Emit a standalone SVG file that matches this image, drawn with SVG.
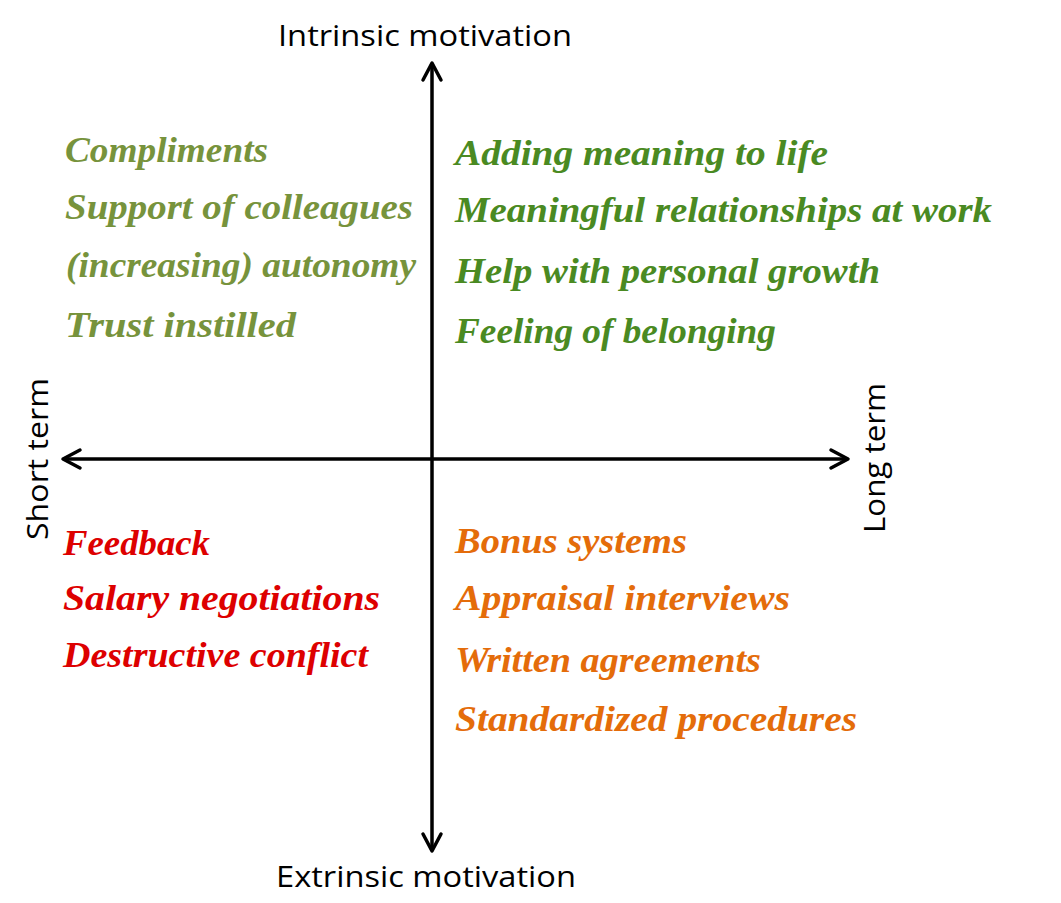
<svg xmlns="http://www.w3.org/2000/svg" width="1061" height="903" viewBox="0 0 1061 903">
<style>
.axis{font-family:"Open Sans","Liberation Sans",sans-serif;font-size:30px;fill:#000}
.s{font-family:"Liberation Serif","DejaVu Serif",serif;font-style:italic;font-weight:bold;font-size:36px}
.olive{fill:#77933C}
.green{fill:#4A8A22}
.red{fill:#DD0000}
.orange{fill:#E46C0A}
.ax{stroke:#000;stroke-width:3.5;fill:none}
</style>
<defs>
<marker id="arr" viewBox="0 0 24 24" refX="20" refY="12" markerWidth="24" markerHeight="24" markerUnits="userSpaceOnUse" orient="auto-start-reverse" overflow="visible">
<path d="M3,3 L20,12 L3,21" fill="none" stroke="#000" stroke-width="3.5" stroke-linejoin="round" stroke-linecap="round"/>
</marker>
</defs>
<rect width="1061" height="903" fill="#fff"/>
<g id="connectors">
<path class="ax" d="M432,851 L432,63" marker-start="url(#arr)" marker-end="url(#arr)"/>
<path class="ax" d="M63,459 L848,459" marker-start="url(#arr)" marker-end="url(#arr)"/>
</g>
<g id="label-intrinsic"><text class="axis" x="425" y="46" text-anchor="middle" textLength="294" lengthAdjust="spacingAndGlyphs">Intrinsic motivation</text></g>
<g id="label-extrinsic"><text class="axis" x="426" y="887" text-anchor="middle" textLength="300" lengthAdjust="spacingAndGlyphs">Extrinsic motivation</text></g>
<g id="label-short"><text class="axis" transform="translate(48,459) rotate(-90)" text-anchor="middle" textLength="162" lengthAdjust="spacingAndGlyphs">Short term</text></g>
<g id="label-long"><text class="axis" transform="translate(885,458) rotate(-90)" text-anchor="middle" textLength="150" lengthAdjust="spacingAndGlyphs">Long term</text></g>
<g id="q-short-intrinsic" class="s olive">
<text x="65" y="162" textLength="203" lengthAdjust="spacingAndGlyphs">Compliments</text>
<text x="65" y="219" textLength="348" lengthAdjust="spacingAndGlyphs">Support of colleagues</text>
<text x="66" y="277" textLength="350" lengthAdjust="spacingAndGlyphs">(increasing) autonomy</text>
<text x="65" y="337" textLength="231" lengthAdjust="spacingAndGlyphs">Trust instilled</text>
</g>
<g id="q-long-intrinsic" class="s green">
<text x="455" y="165" textLength="373" lengthAdjust="spacingAndGlyphs">Adding meaning to life</text>
<text x="455" y="222" textLength="537" lengthAdjust="spacingAndGlyphs">Meaningful relationships at work</text>
<text x="455" y="283" textLength="425" lengthAdjust="spacingAndGlyphs">Help with personal growth</text>
<text x="455" y="343" textLength="321" lengthAdjust="spacingAndGlyphs">Feeling of belonging</text>
</g>
<g id="q-short-extrinsic" class="s red">
<text x="63" y="555" textLength="147" lengthAdjust="spacingAndGlyphs">Feedback</text>
<text x="63" y="610" textLength="317" lengthAdjust="spacingAndGlyphs">Salary negotiations</text>
<text x="63" y="667" textLength="305" lengthAdjust="spacingAndGlyphs">Destructive conflict</text>
</g>
<g id="q-long-extrinsic" class="s orange">
<text x="455" y="553" textLength="232" lengthAdjust="spacingAndGlyphs">Bonus systems</text>
<text x="455" y="610" textLength="335" lengthAdjust="spacingAndGlyphs">Appraisal interviews</text>
<text x="455" y="672" textLength="306" lengthAdjust="spacingAndGlyphs">Written agreements</text>
<text x="455" y="731" textLength="402" lengthAdjust="spacingAndGlyphs">Standardized procedures</text>
</g>
</svg>
